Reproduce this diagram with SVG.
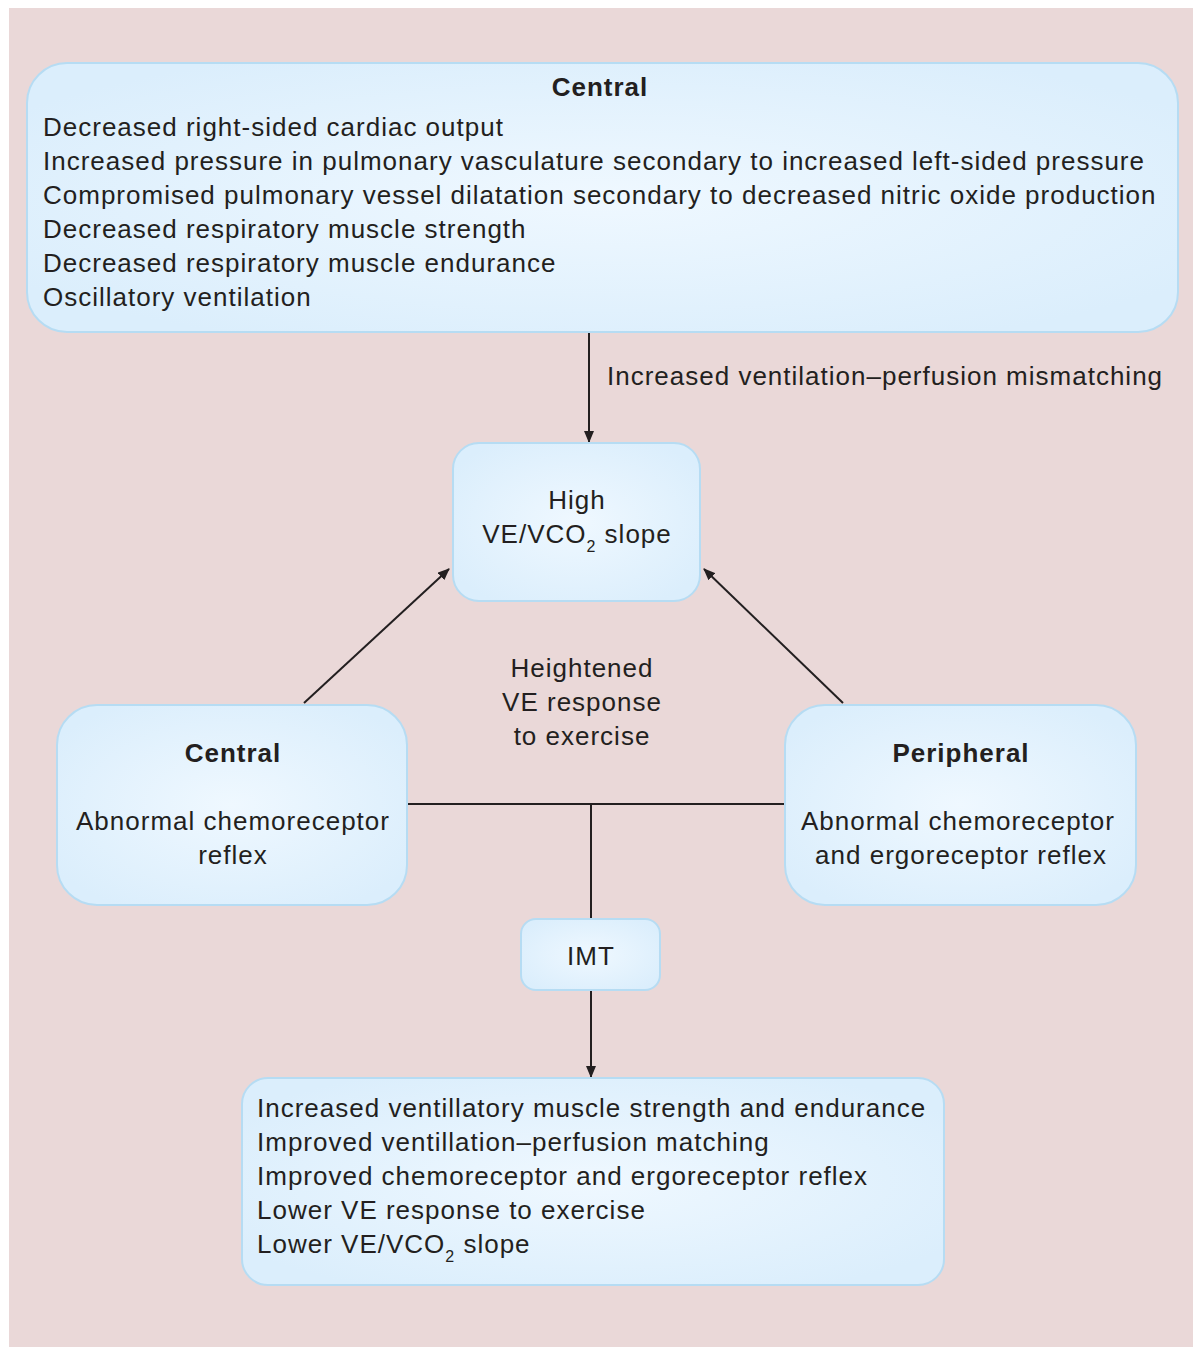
<svg xmlns="http://www.w3.org/2000/svg" width="1193" height="1347" viewBox="0 0 1193 1347">
<defs>
<radialGradient id="bg" cx="50%" cy="50%" r="60%">
<stop offset="0" stop-color="#eff8ff"/>
<stop offset="1" stop-color="#dbeefc"/>
</radialGradient>
<marker id="ah" viewBox="0 0 12 10" refX="11" refY="5" markerWidth="12" markerHeight="10" markerUnits="userSpaceOnUse" orient="auto">
<path d="M0,0 L12,5 L0,10 Z" fill="#231f20"/>
</marker>
<style>
.box{fill:url(#bg);stroke:#b6dcf3;stroke-width:2}
text{font-family:"Liberation Sans",Arial,sans-serif;font-size:26px;letter-spacing:1px;fill:#231f20}
.b{font-weight:bold}
.c{text-anchor:middle}
.sub{font-size:16px}
.ln{stroke:#231f20;stroke-width:2;fill:none}
</style>
</defs>
<rect x="9" y="8" width="1184" height="1339" fill="#ead8d8"/>
<g id="connectors">
<line class="ln" x1="589" y1="333" x2="589" y2="442" marker-end="url(#ah)"/>
<line class="ln" x1="304" y1="703" x2="449" y2="569" marker-end="url(#ah)"/>
<line class="ln" x1="843" y1="703" x2="704" y2="569" marker-end="url(#ah)"/>
<line class="ln" x1="408" y1="804" x2="785" y2="804"/>
<line class="ln" x1="591" y1="804" x2="591" y2="919"/>
<line class="ln" x1="591" y1="991" x2="591" y2="1077" marker-end="url(#ah)"/>
<text x="607" y="385">Increased ventilation–perfusion mismatching</text>
<text class="c" x="582" y="677">Heightened</text>
<text class="c" x="582" y="711">VE response</text>
<text class="c" x="582" y="745">to exercise</text>
</g>
<g id="top-central">
<rect class="box" x="27" y="63" width="1151" height="269" rx="40" ry="40"/>
<text class="b c" x="600" y="96">Central</text>
<text x="43" y="136">Decreased right-sided cardiac output</text>
<text x="43" y="170">Increased pressure in pulmonary vasculature secondary to increased left-sided pressure</text>
<text x="43" y="204">Compromised pulmonary vessel dilatation secondary to decreased nitric oxide production</text>
<text x="43" y="238">Decreased respiratory muscle strength</text>
<text x="43" y="272">Decreased respiratory muscle endurance</text>
<text x="43" y="306">Oscillatory ventilation</text>
</g>
<g id="high-slope">
<rect class="box" x="453" y="443" width="247" height="158" rx="26" ry="26"/>
<text class="c" x="577" y="509">High</text>
<text class="c" x="577" y="543">VE/VCO<tspan class="sub" dy="9">2</tspan><tspan dy="-9"> slope</tspan></text>
</g>
<g id="central-reflex">
<rect class="box" x="57" y="705" width="350" height="200" rx="40" ry="40"/>
<text class="b c" x="233" y="762">Central</text>
<text class="c" x="233" y="830">Abnormal chemoreceptor</text>
<text class="c" x="233" y="864">reflex</text>
</g>
<g id="peripheral-reflex">
<rect class="box" x="785" y="705" width="351" height="200" rx="40" ry="40"/>
<text class="b c" x="961" y="762">Peripheral</text>
<text class="c" x="958" y="830">Abnormal chemoreceptor</text>
<text class="c" x="961" y="864">and ergoreceptor reflex</text>
</g>
<g id="imt">
<rect class="box" x="521" y="919" width="139" height="71" rx="15" ry="15"/>
<text class="c" x="591" y="965">IMT</text>
</g>
<g id="outcomes">
<rect class="box" x="242" y="1078" width="702" height="207" rx="26" ry="26"/>
<text x="257" y="1117">Increased ventillatory muscle strength and endurance</text>
<text x="257" y="1151">Improved ventillation–perfusion matching</text>
<text x="257" y="1185">Improved chemoreceptor and ergoreceptor reflex</text>
<text x="257" y="1219">Lower VE response to exercise</text>
<text x="257" y="1253">Lower VE/VCO<tspan class="sub" dy="9">2</tspan><tspan dy="-9"> slope</tspan></text>
</g>
</svg>
